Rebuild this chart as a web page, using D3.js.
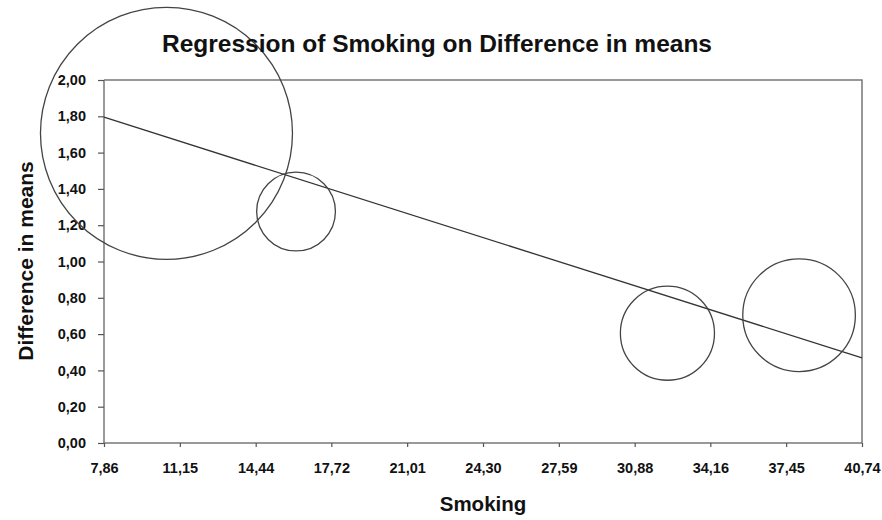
<!DOCTYPE html>
<meta charset="utf-8">
<script src="https://d3js.org/d3.v7.min.js"></script>
<style>
  body { margin: 0; background: #fff; font-family: 'Liberation Sans', Arial, sans-serif; }
</style>
<body>
<svg width="882" height="520"></svg>
<script>
// studies: smoking (x), difference in means (y), weight (bubble area)
var smoking = [10.57, 16.19, 32.30, 38.01];
var diffMeans = [1.706, 1.275, 0.605, 0.704];
var weights = [69.6, 6.8, 9.7, 13.9];

// regression line ends
var regX = [7.86, 40.74];
var regY = [1.795, 0.469];

var xTicks = [7.86, 11.15, 14.44, 17.72, 21.01, 24.30, 27.59, 30.88, 34.16, 37.45, 40.74];
var yTicks = [0, 0.2, 0.4, 0.6, 0.8, 1.0, 1.2, 1.4, 1.6, 1.8, 2.0];

var svg = d3.select("svg"),
    margin = {top: 80, right: 20, bottom: 77, left: 104},
    width = 862 - margin.left,
    height = 443 - margin.top,
    g = svg.append("g").attr("transform", "translate(" + margin.left + "," + margin.top + ")");

var x = d3.scaleLinear().domain([7.86, 40.74]).range([0, width]);
var y = d3.scaleLinear().domain([0, 2]).range([height, 0]);
var r = d3.scaleSqrt().domain([0, 69.6]).range([0, 126]);

var fmt = function(d) { return d3.format(".2f")(d).replace(".", ","); };

// plot border (top and right)
g.append("path")
    .attr("d", "M0,0H" + width + "V" + height)
    .attr("fill", "none")
    .attr("stroke", "#777")
    .attr("stroke-width", 1.5);

var yAxis = g.append("g")
    .call(d3.axisLeft(y).tickValues(yTicks).tickFormat(fmt).tickSize(6).tickPadding(12));
var xAxis = g.append("g")
    .attr("transform", "translate(0," + height + ")")
    .call(d3.axisBottom(x).tickValues(xTicks).tickFormat(fmt).tickSize(4).tickPadding(16));

[xAxis, yAxis].forEach(function(a) {
  a.attr("font-family", "'Liberation Sans', Arial, sans-serif").attr("font-size", 14.5);
  a.select(".domain").attr("stroke", "#777").attr("stroke-width", 1.5);
  a.selectAll(".tick line").attr("stroke", "#555").attr("stroke-width", 1.2);
  a.selectAll(".tick text").attr("font-weight", "bold").attr("fill", "#111");
});
yAxis.selectAll(".domain").attr("d", "M0,0V" + height);
xAxis.selectAll(".domain").attr("d", "M0,0H" + width);

// regression line
g.append("line")
    .attr("x1", x(regX[0])).attr("y1", y(regY[0]))
    .attr("x2", x(regX[1])).attr("y2", y(regY[1]))
    .attr("stroke", "#333")
    .attr("stroke-width", 1.3);

// bubbles
g.selectAll("circle")
  .data(smoking)
  .enter().append("circle")
    .attr("cx", function(d) { return x(d); })
    .attr("cy", function(d, i) { return y(diffMeans[i]); })
    .attr("r", function(d, i) { return r(weights[i]); })
    .attr("fill", "none")
    .attr("stroke", "#444")
    .attr("stroke-width", 1.3);

svg.append("text")
    .attr("x", 437)
    .attr("y", 52)
    .attr("text-anchor", "middle")
    .attr("font-weight", "bold")
    .attr("font-size", 24.5)
    .attr("fill", "#111")
    .text("Regression of Smoking on Difference in means");

svg.append("text")
    .attr("x", 483)
    .attr("y", 511)
    .attr("text-anchor", "middle")
    .attr("font-weight", "bold")
    .attr("font-size", 20.5)
    .attr("fill", "#111")
    .text("Smoking");

svg.append("text")
    .attr("transform", "translate(33,261) rotate(-90)")
    .attr("text-anchor", "middle")
    .attr("font-weight", "bold")
    .attr("font-size", 21)
    .attr("fill", "#111")
    .text("Difference in means");
</script>
</body>
